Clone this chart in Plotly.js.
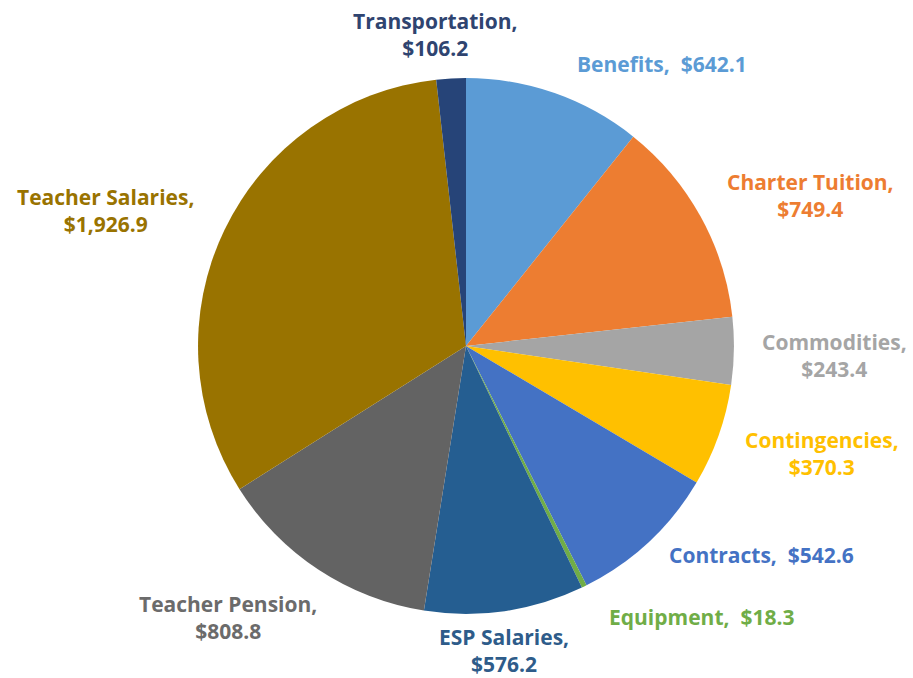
<!DOCTYPE html>
<html>
<head>
<meta charset="utf-8">
<script src="https://cdn.plot.ly/plotly-3.0.1.min.js"></script>
<style>
  body { margin: 0; background: #fff; }
  #plot { width: 913px; height: 678px; }
</style>
</head>
<body>
<div id="plot"></div>
<script>
// budget categories, clockwise from 12 o'clock
var categories = ["Benefits", "Charter Tuition", "Commodities", "Contingencies", "Contracts",
  "Equipment", "ESP Salaries", "Teacher Pension", "Teacher Salaries", "Transportation"];
var amounts = [642.1, 749.4, 243.4, 370.3, 542.6, 18.3, 576.2, 808.8, 1926.9, 106.2];

var sliceColors = ["#5B9BD5", "#ED7D31", "#A5A5A5", "#FFC000", "#4472C4",
  "#70AD47", "#255E91", "#636363", "#997300", "#264478"];
var labelColors = ["#5B9BD5", "#ED7D31", "#A5A5A5", "#FFC000", "#4472C4",
  "#70AD47", "#2E5C8A", "#6B6B6B", "#997300", "#2F4470"];

// where each data label sits (pixels), and whether it wraps
var labelX = [662, 810, 834, 822, 761, 701, 504, 228, 105, 435];
var labelY = [64, 195, 355, 453, 555, 617, 650, 617, 210, 34];
var wraps = [false, true, true, true, false, false, true, true, true, true];

var W = 913, H = 678;

function money(v) {
  return "$" + v.toLocaleString("en-US", { minimumFractionDigits: 1, maximumFractionDigits: 1 });
}

var budget = {
  type: "pie",
  labels: categories,
  values: amounts,
  sort: false,
  direction: "clockwise",
  rotation: 0,
  marker: { colors: sliceColors, line: { width: 0 } },
  textinfo: "none",
  hoverinfo: "label+value",
  domain: { x: [0.2169, 0.8039], y: [0.0944, 0.885] }
};

var notes = categories.map(function (c, i) {
  return {
    xref: "paper", yref: "paper",
    x: labelX[i] / W, y: 1 - labelY[i] / H,
    xanchor: "center", yanchor: "middle",
    align: "center",
    showarrow: false,
    text: c + "," + (wraps[i] ? "<br>" : "  ") + money(amounts[i]),
    font: { family: "'Open Sans', sans-serif", size: 21, weight: "bold", color: labelColors[i] }
  };
});

var layout = {
  width: W,
  height: H,
  margin: { l: 0, r: 0, t: 0, b: 0 },
  showlegend: false,
  paper_bgcolor: "#fff",
  annotations: notes
};

Plotly.newPlot("plot", [budget], layout, { displayModeBar: false });
</script>
</body>
</html>
